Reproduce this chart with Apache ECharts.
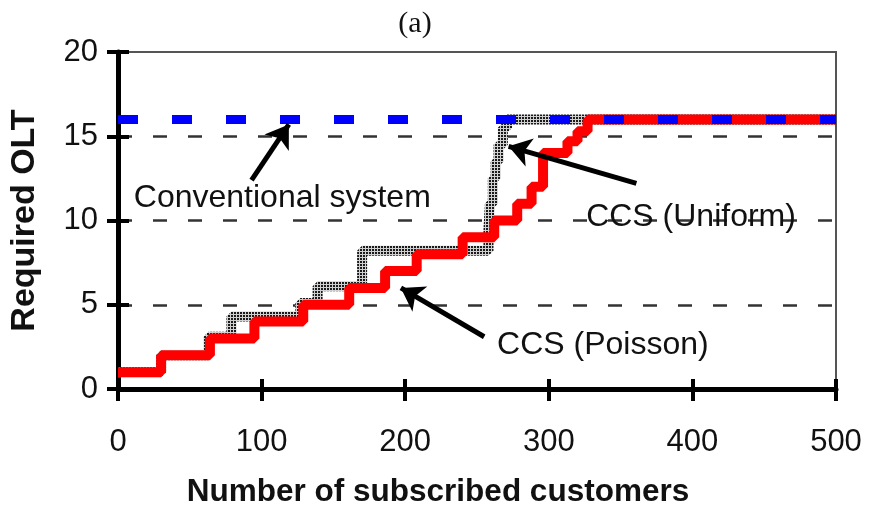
<!DOCTYPE html>
<html>
<head>
<meta charset="utf-8">
<script src="https://cdn.jsdelivr.net/npm/echarts@6/dist/echarts.min.js"></script>
<style>
  html, body { margin: 0; padding: 0; background: #fff; }
  #main { width: 874px; height: 513px; }
</style>
</head>
<body>
<div id="main"></div>
<script>
// data (step points, value holds until the next x)
var poisson_x = [0, 30, 64, 95, 129, 161, 186, 208, 240, 262, 278, 288, 296, 313, 320, 327, 500];
var poisson_y = [1, 2, 3, 4, 5, 6, 7, 8, 9, 10, 11, 12, 14, 14.7, 15.3, 16, 16];

var uniform_x = [0, 30, 63, 79, 127, 139, 170, 258, 259, 261, 263, 265, 268, 271, 500];
var uniform_y = [1, 2, 3.1, 4.3, 5.1, 6.1, 8.2, 9.5, 11, 12.5, 13.5, 14.5, 15.5, 16, 16];

var conventional_x = [0, 500];
var conventional_y = [16, 16];

// annotation anchors in data units: text position, arrow tail, arrow tip
var notes = [
  { text: 'Conventional system', at: [11, 11.3], from: [93, 12.4], to: [119, 15.7] },
  { text: 'CCS (Uniform)', at: [326, 10.2], from: [361, 12.2], to: [272, 14.4] },
  { text: 'CCS (Poisson)', at: [264, 2.6], from: [255, 3.1], to: [197, 6.0] }
];

function zip(xs, ys) {
  var ret = [];
  for (var i = 0; i < xs.length; i++) {
    ret.push([xs[i], ys[i]]);
  }
  return ret;
}

// halftone-ish texture for the uniform curve
var pat = document.createElement('canvas');
pat.width = 3; pat.height = 3;
var pc = pat.getContext('2d');
pc.fillStyle = '#d0d0d0';
pc.fillRect(0, 0, 3, 3);
pc.fillStyle = '#1a1a1a';
pc.fillRect(0, 0, 2, 2);

var myChart = echarts.init(document.getElementById('main'));
var font = "'Liberation Sans', Arial, sans-serif";

var arrowData = [];
for (var i = 0; i < notes.length; i++) {
  arrowData.push([{ coord: notes[i].from }, { coord: notes[i].to }]);
}

var option = {
  animation: false,
  title: {
    text: '(a)',
    left: 410,
    top: 4,
    textAlign: 'center',
    textStyle: { fontFamily: "'Liberation Serif', 'Times New Roman', serif", fontWeight: 'normal', fontSize: 30, color: '#111' }
  },
  grid: {
    left: 113, right: 38, top: 52, bottom: 122,
    show: true, borderColor: '#555', borderWidth: 2, backgroundColor: 'transparent'
  },
  xAxis: [{
    type: 'value', min: 0, max: 500, interval: 100, position: 'bottom',
    axisLine: { show: true, onZero: false, lineStyle: { color: '#000', width: 5 } },
    axisTick: { show: true, length: 12, lineStyle: { color: '#000', width: 4 } },
    axisLabel: { margin: 38, fontSize: 31, color: '#111', fontFamily: font },
    splitLine: { show: false },
    name: 'Number of subscribed customers',
    nameLocation: 'middle',
    nameGap: 87,
    nameTextStyle: { fontSize: 31.5, fontWeight: 'bold', color: '#111', fontFamily: font, padding: [0, 78, 0, 0] }
  }, {
    type: 'value', min: 0, max: 500, interval: 100, position: 'bottom',
    axisLine: { show: false, onZero: false },
    axisTick: { show: true, inside: true, length: 10, lineStyle: { color: '#000', width: 4 } },
    axisLabel: { show: false },
    splitLine: { show: false }
  }],
  yAxis: [{
    type: 'value', min: 0, max: 20, interval: 5, position: 'left',
    axisLine: { show: true, onZero: false, lineStyle: { color: '#000', width: 5 } },
    axisTick: { show: true, length: 11, lineStyle: { color: '#000', width: 4 } },
    axisLabel: { margin: 20, fontSize: 31, color: '#111', fontFamily: font },
    splitLine: {
      show: true, showMinLine: false, showMaxLine: false,
      lineStyle: { color: '#333', width: 2.5, type: [14, 21] }
    },
    name: 'Required OLT',
    nameLocation: 'middle',
    nameGap: 76,
    nameTextStyle: { fontSize: 34, fontWeight: 'bold', color: '#111', fontFamily: font }
  }, {
    type: 'value', min: 0, max: 20, interval: 5, position: 'left',
    axisLine: { show: false, onZero: false },
    axisTick: { show: true, inside: true, length: 11, lineStyle: { color: '#000', width: 4 } },
    axisLabel: { show: false },
    splitLine: { show: false }
  }],
  series: [{
    name: 'CCS (Uniform)',
    type: 'line',
    step: 'end',
    showSymbol: false,
    data: zip(uniform_x, uniform_y),
    lineStyle: { width: 10, color: { image: pat, repeat: 'repeat' } },
    z: 2
  }, {
    name: 'CCS (Poisson)',
    type: 'line',
    step: 'end',
    showSymbol: false,
    data: zip(poisson_x, poisson_y),
    lineStyle: { width: 10, color: '#ff0000' },
    z: 3
  }, {
    name: 'Conventional system',
    type: 'line',
    showSymbol: false,
    data: zip(conventional_x, conventional_y),
    lineStyle: { width: 9, color: '#0000ff', type: [20, 34] },
    z: 4,
    markLine: {
      silent: true,
      symbol: ['none', 'arrow'],
      symbolSize: 22,
      label: { show: false },
      lineStyle: { color: '#000', width: 5, type: 'solid' },
      data: arrowData
    }
  }]
};

myChart.setOption(option);

// text labels placed through the chart's own scales
var texts = [];
for (var j = 0; j < notes.length; j++) {
  var p = myChart.convertToPixel({ gridIndex: 0 }, notes[j].at);
  texts.push({
    type: 'text',
    x: p[0], y: p[1],
    z: 10,
    style: { text: notes[j].text, fontSize: 32, fontFamily: font, fill: '#111', verticalAlign: 'middle', align: 'left' }
  });
}
myChart.setOption({ graphic: texts });

window.addEventListener('resize', function() {
  myChart.resize();
});
</script>
</body>
</html>
